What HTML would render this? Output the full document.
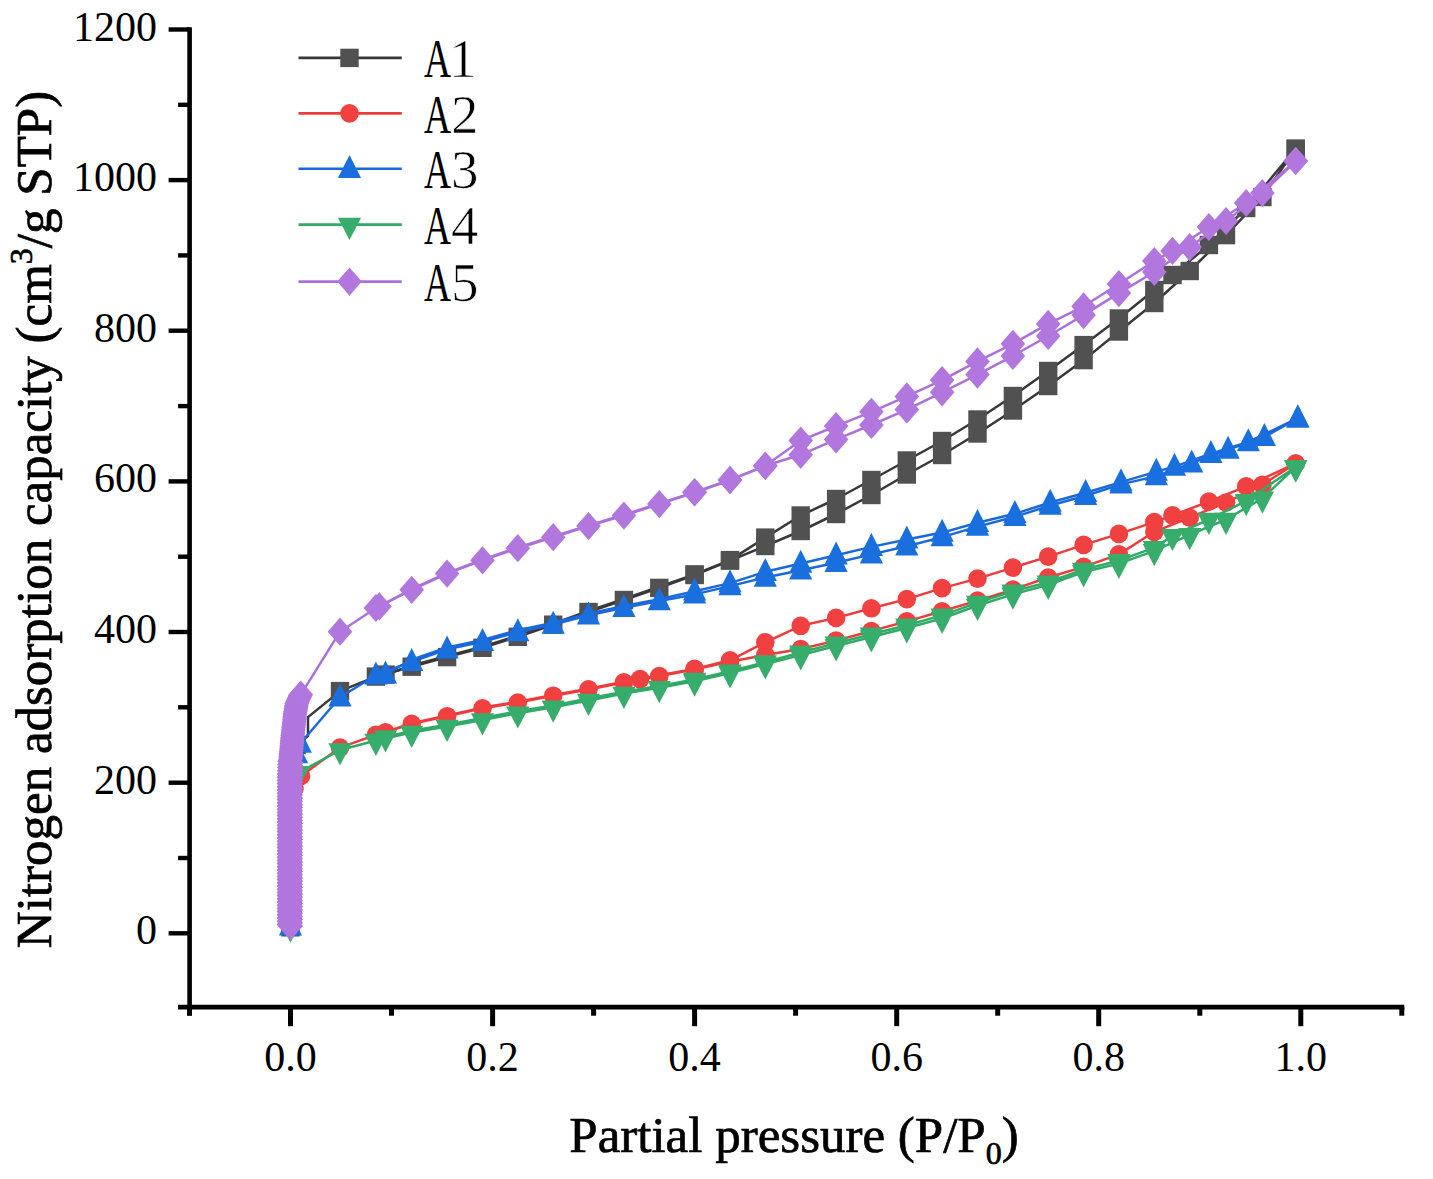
<!DOCTYPE html>
<html><head><meta charset="utf-8"><style>
html,body{margin:0;padding:0;background:#fff;}
svg{display:block;}
.tk{font-family:"Liberation Serif",serif;font-size:42px;fill:#000;}
.ttl{font-family:"Liberation Serif",serif;font-size:51px;fill:#000;stroke:#000;stroke-width:0.7px;}
.lg{font-family:"Liberation Serif",serif;font-size:55px;fill:#000;}
.sub,.sup{font-size:32px;}
.lgd{stroke:#fff;stroke-width:0.7px;}
</style></head><body>
<svg width="1433" height="1179" viewBox="0 0 1433 1179">
<path d="M189.6 27.2V1015.5" stroke="#000" stroke-width="4.6" fill="none"/>
<path d="M178 1007.2H1404.3" stroke="#000" stroke-width="4.8" fill="none"/>
<path d="M168.6 933.3H189.6" stroke="#000" stroke-width="4.4"/>
<path d="M178.1 858.0H189.6" stroke="#000" stroke-width="4.4"/>
<path d="M168.6 782.7H189.6" stroke="#000" stroke-width="4.4"/>
<path d="M178.1 707.3H189.6" stroke="#000" stroke-width="4.4"/>
<path d="M168.6 632.0H189.6" stroke="#000" stroke-width="4.4"/>
<path d="M178.1 556.7H189.6" stroke="#000" stroke-width="4.4"/>
<path d="M168.6 481.4H189.6" stroke="#000" stroke-width="4.4"/>
<path d="M178.1 406.1H189.6" stroke="#000" stroke-width="4.4"/>
<path d="M168.6 330.7H189.6" stroke="#000" stroke-width="4.4"/>
<path d="M178.1 255.4H189.6" stroke="#000" stroke-width="4.4"/>
<path d="M168.6 180.1H189.6" stroke="#000" stroke-width="4.4"/>
<path d="M178.1 104.8H189.6" stroke="#000" stroke-width="4.4"/>
<path d="M168.6 29.5H189.6" stroke="#000" stroke-width="4.4"/>
<path d="M189.5 1007.2V1015.7" stroke="#000" stroke-width="5"/>
<path d="M290.5 1007.2V1026.2" stroke="#000" stroke-width="5"/>
<path d="M391.5 1007.2V1015.7" stroke="#000" stroke-width="5"/>
<path d="M492.6 1007.2V1026.2" stroke="#000" stroke-width="5"/>
<path d="M593.6 1007.2V1015.7" stroke="#000" stroke-width="5"/>
<path d="M694.6 1007.2V1026.2" stroke="#000" stroke-width="5"/>
<path d="M795.6 1007.2V1015.7" stroke="#000" stroke-width="5"/>
<path d="M896.7 1007.2V1026.2" stroke="#000" stroke-width="5"/>
<path d="M997.7 1007.2V1015.7" stroke="#000" stroke-width="5"/>
<path d="M1098.7 1007.2V1026.2" stroke="#000" stroke-width="5"/>
<path d="M1199.8 1007.2V1015.7" stroke="#000" stroke-width="5"/>
<path d="M1300.8 1007.2V1026.2" stroke="#000" stroke-width="5"/>
<path d="M1401.8 1007.2V1015.7" stroke="#000" stroke-width="5"/>
<polyline points="290.5,927.3 290.5,903.2 290.5,873.0 290.5,842.9 290.5,812.8 290.5,782.7 292.5,760.1 296.6,745.0 308.0,736.0 308.0,717.1 340.0,691.1 375.9,676.6 411.7,666.7 447.1,657.1 482.5,647.8 517.8,636.8 553.2,624.7 588.5,612.0 623.9,600.0 659.3,587.9 694.6,575.0 730.0,560.6 765.3,546.0 800.7,531.0 836.1,514.0 871.4,495.0 906.8,474.5 942.1,455.0 977.5,433.5 1012.9,410.5 1048.2,386.0 1083.6,360.1 1118.9,331.5 1154.3,303.0 1189.7,271.0 1226.0,235.1 1262.4,197.0 1295.7,148.8" fill="none" stroke="#383838" stroke-width="2.5" stroke-linejoin="round"/>
<polyline points="1295.7,148.8 1246.2,208.0 1208.9,245.0 1172.5,275.0 1154.3,290.0 1118.9,318.5 1083.6,345.1 1048.2,371.0 1012.9,396.0 977.5,419.5 942.1,441.0 906.8,460.5 871.4,480.0 836.1,499.0 800.7,515.5 765.3,537.6 730.0,560.1 694.6,574.4 659.3,586.8 623.9,598.9 588.5,610.9 553.2,623.6 517.8,635.6 482.5,646.7 447.1,656.0 411.7,665.5 385.5,674.6" fill="none" stroke="#383838" stroke-width="2.5" stroke-linejoin="round"/>
<rect x="281.3" y="918.1" width="18.4" height="18.4" fill="#515151"/>
<rect x="281.3" y="894.0" width="18.4" height="18.4" fill="#515151"/>
<rect x="281.3" y="863.8" width="18.4" height="18.4" fill="#515151"/>
<rect x="281.3" y="833.7" width="18.4" height="18.4" fill="#515151"/>
<rect x="281.3" y="803.6" width="18.4" height="18.4" fill="#515151"/>
<rect x="281.3" y="773.5" width="18.4" height="18.4" fill="#515151"/>
<rect x="283.3" y="750.9" width="18.4" height="18.4" fill="#515151"/>
<rect x="287.4" y="735.8" width="18.4" height="18.4" fill="#515151"/>
<rect x="330.8" y="681.9" width="18.4" height="18.4" fill="#515151"/>
<rect x="366.7" y="667.4" width="18.4" height="18.4" fill="#515151"/>
<rect x="402.5" y="657.5" width="18.4" height="18.4" fill="#515151"/>
<rect x="437.9" y="647.9" width="18.4" height="18.4" fill="#515151"/>
<rect x="473.3" y="638.6" width="18.4" height="18.4" fill="#515151"/>
<rect x="508.6" y="627.6" width="18.4" height="18.4" fill="#515151"/>
<rect x="544.0" y="615.5" width="18.4" height="18.4" fill="#515151"/>
<rect x="579.3" y="602.8" width="18.4" height="18.4" fill="#515151"/>
<rect x="614.7" y="590.8" width="18.4" height="18.4" fill="#515151"/>
<rect x="650.1" y="578.7" width="18.4" height="18.4" fill="#515151"/>
<rect x="685.4" y="565.8" width="18.4" height="18.4" fill="#515151"/>
<rect x="720.8" y="551.4" width="18.4" height="18.4" fill="#515151"/>
<rect x="756.1" y="536.8" width="18.4" height="18.4" fill="#515151"/>
<rect x="791.5" y="521.8" width="18.4" height="18.4" fill="#515151"/>
<rect x="826.9" y="504.8" width="18.4" height="18.4" fill="#515151"/>
<rect x="862.2" y="485.8" width="18.4" height="18.4" fill="#515151"/>
<rect x="897.6" y="465.3" width="18.4" height="18.4" fill="#515151"/>
<rect x="932.9" y="445.8" width="18.4" height="18.4" fill="#515151"/>
<rect x="968.3" y="424.3" width="18.4" height="18.4" fill="#515151"/>
<rect x="1003.7" y="401.3" width="18.4" height="18.4" fill="#515151"/>
<rect x="1039.0" y="376.8" width="18.4" height="18.4" fill="#515151"/>
<rect x="1074.4" y="350.9" width="18.4" height="18.4" fill="#515151"/>
<rect x="1109.7" y="322.3" width="18.4" height="18.4" fill="#515151"/>
<rect x="1145.1" y="293.8" width="18.4" height="18.4" fill="#515151"/>
<rect x="1180.5" y="261.8" width="18.4" height="18.4" fill="#515151"/>
<rect x="1216.8" y="225.9" width="18.4" height="18.4" fill="#515151"/>
<rect x="1253.2" y="187.8" width="18.4" height="18.4" fill="#515151"/>
<rect x="1286.5" y="139.6" width="18.4" height="18.4" fill="#515151"/>
<rect x="1286.5" y="139.6" width="18.4" height="18.4" fill="#515151"/>
<rect x="1237.0" y="198.8" width="18.4" height="18.4" fill="#515151"/>
<rect x="1199.7" y="235.8" width="18.4" height="18.4" fill="#515151"/>
<rect x="1163.3" y="265.8" width="18.4" height="18.4" fill="#515151"/>
<rect x="1145.1" y="280.8" width="18.4" height="18.4" fill="#515151"/>
<rect x="1109.7" y="309.3" width="18.4" height="18.4" fill="#515151"/>
<rect x="1074.4" y="335.9" width="18.4" height="18.4" fill="#515151"/>
<rect x="1039.0" y="361.8" width="18.4" height="18.4" fill="#515151"/>
<rect x="1003.7" y="386.8" width="18.4" height="18.4" fill="#515151"/>
<rect x="968.3" y="410.3" width="18.4" height="18.4" fill="#515151"/>
<rect x="932.9" y="431.8" width="18.4" height="18.4" fill="#515151"/>
<rect x="897.6" y="451.3" width="18.4" height="18.4" fill="#515151"/>
<rect x="862.2" y="470.8" width="18.4" height="18.4" fill="#515151"/>
<rect x="826.9" y="489.8" width="18.4" height="18.4" fill="#515151"/>
<rect x="791.5" y="506.3" width="18.4" height="18.4" fill="#515151"/>
<rect x="756.1" y="528.4" width="18.4" height="18.4" fill="#515151"/>
<rect x="720.8" y="550.9" width="18.4" height="18.4" fill="#515151"/>
<rect x="685.4" y="565.2" width="18.4" height="18.4" fill="#515151"/>
<rect x="376.3" y="665.4" width="18.4" height="18.4" fill="#515151"/>
<polyline points="290.5,927.3 290.5,903.2 290.5,873.0 290.5,842.9 290.5,820.3 291.5,801.5 294.5,788.7 301.0,775.9 340.0,747.6 375.9,734.9 411.7,723.9 447.1,716.2 482.5,708.4 517.8,702.5 553.2,695.7 588.5,689.4 623.9,682.4 659.3,676.1 694.6,669.4 730.0,661.8 765.3,655.0 800.7,649.0 836.1,640.6 871.4,631.0 906.8,621.4 942.1,611.3 977.5,600.6 1012.9,589.6 1048.2,577.5 1083.6,566.9 1118.9,554.4 1154.3,531.8 1189.7,517.7 1226.0,502.5 1262.4,484.7 1295.7,463.5" fill="none" stroke="#ef3a3a" stroke-width="2.5" stroke-linejoin="round"/>
<polyline points="1295.7,463.5 1246.2,486.4 1208.9,501.6 1172.5,515.3 1154.3,522.1 1118.9,533.9 1083.6,544.9 1048.2,556.6 1012.9,567.6 977.5,578.6 942.1,588.1 906.8,599.1 871.4,608.3 836.1,617.9 800.7,625.8 765.3,642.3 730.0,660.3 694.6,668.9 659.3,675.3 640.1,679.1 623.9,681.7 588.5,688.7 553.2,694.9 517.8,701.8 482.5,707.6 447.1,715.4 411.7,723.2 385.5,732.3" fill="none" stroke="#ef3a3a" stroke-width="2.5" stroke-linejoin="round"/>
<circle cx="290.5" cy="927.3" r="9.3" fill="#F14040"/>
<circle cx="290.5" cy="903.2" r="9.3" fill="#F14040"/>
<circle cx="290.5" cy="873.0" r="9.3" fill="#F14040"/>
<circle cx="290.5" cy="842.9" r="9.3" fill="#F14040"/>
<circle cx="290.5" cy="820.3" r="9.3" fill="#F14040"/>
<circle cx="291.5" cy="801.5" r="9.3" fill="#F14040"/>
<circle cx="294.5" cy="788.7" r="9.3" fill="#F14040"/>
<circle cx="301.0" cy="775.9" r="9.3" fill="#F14040"/>
<circle cx="340.0" cy="747.6" r="9.3" fill="#F14040"/>
<circle cx="375.9" cy="734.9" r="9.3" fill="#F14040"/>
<circle cx="411.7" cy="723.9" r="9.3" fill="#F14040"/>
<circle cx="447.1" cy="716.2" r="9.3" fill="#F14040"/>
<circle cx="482.5" cy="708.4" r="9.3" fill="#F14040"/>
<circle cx="517.8" cy="702.5" r="9.3" fill="#F14040"/>
<circle cx="553.2" cy="695.7" r="9.3" fill="#F14040"/>
<circle cx="588.5" cy="689.4" r="9.3" fill="#F14040"/>
<circle cx="623.9" cy="682.4" r="9.3" fill="#F14040"/>
<circle cx="659.3" cy="676.1" r="9.3" fill="#F14040"/>
<circle cx="694.6" cy="669.4" r="9.3" fill="#F14040"/>
<circle cx="730.0" cy="661.8" r="9.3" fill="#F14040"/>
<circle cx="765.3" cy="655.0" r="9.3" fill="#F14040"/>
<circle cx="800.7" cy="649.0" r="9.3" fill="#F14040"/>
<circle cx="836.1" cy="640.6" r="9.3" fill="#F14040"/>
<circle cx="871.4" cy="631.0" r="9.3" fill="#F14040"/>
<circle cx="906.8" cy="621.4" r="9.3" fill="#F14040"/>
<circle cx="942.1" cy="611.3" r="9.3" fill="#F14040"/>
<circle cx="977.5" cy="600.6" r="9.3" fill="#F14040"/>
<circle cx="1012.9" cy="589.6" r="9.3" fill="#F14040"/>
<circle cx="1048.2" cy="577.5" r="9.3" fill="#F14040"/>
<circle cx="1083.6" cy="566.9" r="9.3" fill="#F14040"/>
<circle cx="1118.9" cy="554.4" r="9.3" fill="#F14040"/>
<circle cx="1154.3" cy="531.8" r="9.3" fill="#F14040"/>
<circle cx="1189.7" cy="517.7" r="9.3" fill="#F14040"/>
<circle cx="1226.0" cy="502.5" r="9.3" fill="#F14040"/>
<circle cx="1262.4" cy="484.7" r="9.3" fill="#F14040"/>
<circle cx="1295.7" cy="463.5" r="9.3" fill="#F14040"/>
<circle cx="1295.7" cy="463.5" r="9.3" fill="#F14040"/>
<circle cx="1246.2" cy="486.4" r="9.3" fill="#F14040"/>
<circle cx="1208.9" cy="501.6" r="9.3" fill="#F14040"/>
<circle cx="1172.5" cy="515.3" r="9.3" fill="#F14040"/>
<circle cx="1154.3" cy="522.1" r="9.3" fill="#F14040"/>
<circle cx="1118.9" cy="533.9" r="9.3" fill="#F14040"/>
<circle cx="1083.6" cy="544.9" r="9.3" fill="#F14040"/>
<circle cx="1048.2" cy="556.6" r="9.3" fill="#F14040"/>
<circle cx="1012.9" cy="567.6" r="9.3" fill="#F14040"/>
<circle cx="977.5" cy="578.6" r="9.3" fill="#F14040"/>
<circle cx="942.1" cy="588.1" r="9.3" fill="#F14040"/>
<circle cx="906.8" cy="599.1" r="9.3" fill="#F14040"/>
<circle cx="871.4" cy="608.3" r="9.3" fill="#F14040"/>
<circle cx="836.1" cy="617.9" r="9.3" fill="#F14040"/>
<circle cx="800.7" cy="625.8" r="9.3" fill="#F14040"/>
<circle cx="765.3" cy="642.3" r="9.3" fill="#F14040"/>
<circle cx="730.0" cy="660.3" r="9.3" fill="#F14040"/>
<circle cx="694.6" cy="668.9" r="9.3" fill="#F14040"/>
<circle cx="640.1" cy="679.1" r="9.3" fill="#F14040"/>
<circle cx="385.5" cy="732.3" r="9.3" fill="#F14040"/>
<polyline points="290.5,926.3 290.5,903.2 290.5,873.0 290.5,842.9 290.5,812.8 291.5,782.7 294.5,763.8 296.6,754.0 300.3,743.5 340.0,697.3 375.9,675.2 411.7,661.7 447.1,649.3 482.5,641.8 517.8,632.0 553.2,624.5 588.5,615.4 623.9,607.9 659.3,601.1 694.6,594.4 730.0,586.1 765.3,577.5 800.7,570.3 836.1,562.7 871.4,554.4 906.8,546.2 942.1,537.1 977.5,526.6 1014.9,516.8 1050.2,505.5 1085.6,495.7 1121.0,484.4 1156.3,476.1 1191.7,463.2 1228.1,449.6 1264.4,436.9 1297.8,418.2" fill="none" stroke="#1a68de" stroke-width="2.5" stroke-linejoin="round"/>
<polyline points="1297.8,418.2 1248.3,442.0 1210.9,453.8 1174.5,466.6 1156.3,471.6 1121.0,482.1 1085.6,492.7 1050.2,502.5 1014.9,513.8 977.5,522.8 942.1,532.6 906.8,539.4 871.4,546.9 836.1,555.2 800.7,563.5 765.3,571.8 730.0,583.1 694.6,591.3 659.3,599.3 623.9,606.0 588.5,613.6 553.2,622.6 517.8,630.1 482.5,639.9 447.1,647.5 411.7,659.8 385.5,674.2" fill="none" stroke="#1a68de" stroke-width="2.5" stroke-linejoin="round"/>
<path d="M290.5 912.5L302.1 935.5L278.9 935.5Z" fill="#1A6FDF"/>
<path d="M290.5 889.4L302.1 912.4L278.9 912.4Z" fill="#1A6FDF"/>
<path d="M290.5 859.2L302.1 882.2L278.9 882.2Z" fill="#1A6FDF"/>
<path d="M290.5 829.1L302.1 852.1L278.9 852.1Z" fill="#1A6FDF"/>
<path d="M290.5 799.0L302.1 822.0L278.9 822.0Z" fill="#1A6FDF"/>
<path d="M291.5 768.9L303.1 791.9L279.9 791.9Z" fill="#1A6FDF"/>
<path d="M294.5 750.0L306.1 773.0L282.9 773.0Z" fill="#1A6FDF"/>
<path d="M296.6 740.2L308.2 763.2L285.0 763.2Z" fill="#1A6FDF"/>
<path d="M300.3 729.7L311.9 752.7L288.7 752.7Z" fill="#1A6FDF"/>
<path d="M340.0 683.5L351.6 706.5L328.4 706.5Z" fill="#1A6FDF"/>
<path d="M375.9 661.4L387.5 684.4L364.3 684.4Z" fill="#1A6FDF"/>
<path d="M411.7 647.9L423.3 670.9L400.1 670.9Z" fill="#1A6FDF"/>
<path d="M447.1 635.5L458.7 658.5L435.5 658.5Z" fill="#1A6FDF"/>
<path d="M482.5 628.0L494.1 651.0L470.9 651.0Z" fill="#1A6FDF"/>
<path d="M517.8 618.2L529.4 641.2L506.2 641.2Z" fill="#1A6FDF"/>
<path d="M553.2 610.7L564.8 633.7L541.6 633.7Z" fill="#1A6FDF"/>
<path d="M588.5 601.6L600.1 624.6L576.9 624.6Z" fill="#1A6FDF"/>
<path d="M623.9 594.1L635.5 617.1L612.3 617.1Z" fill="#1A6FDF"/>
<path d="M659.3 587.3L670.9 610.3L647.7 610.3Z" fill="#1A6FDF"/>
<path d="M694.6 580.6L706.2 603.6L683.0 603.6Z" fill="#1A6FDF"/>
<path d="M730.0 572.3L741.6 595.3L718.4 595.3Z" fill="#1A6FDF"/>
<path d="M765.3 563.7L776.9 586.7L753.7 586.7Z" fill="#1A6FDF"/>
<path d="M800.7 556.5L812.3 579.5L789.1 579.5Z" fill="#1A6FDF"/>
<path d="M836.1 548.9L847.7 571.9L824.5 571.9Z" fill="#1A6FDF"/>
<path d="M871.4 540.6L883.0 563.6L859.8 563.6Z" fill="#1A6FDF"/>
<path d="M906.8 532.4L918.4 555.4L895.2 555.4Z" fill="#1A6FDF"/>
<path d="M942.1 523.3L953.7 546.3L930.5 546.3Z" fill="#1A6FDF"/>
<path d="M977.5 512.8L989.1 535.8L965.9 535.8Z" fill="#1A6FDF"/>
<path d="M1014.9 503.0L1026.5 526.0L1003.3 526.0Z" fill="#1A6FDF"/>
<path d="M1050.2 491.7L1061.8 514.7L1038.6 514.7Z" fill="#1A6FDF"/>
<path d="M1085.6 481.9L1097.2 504.9L1074.0 504.9Z" fill="#1A6FDF"/>
<path d="M1121.0 470.6L1132.6 493.6L1109.4 493.6Z" fill="#1A6FDF"/>
<path d="M1156.3 462.3L1167.9 485.3L1144.7 485.3Z" fill="#1A6FDF"/>
<path d="M1191.7 449.4L1203.3 472.4L1180.1 472.4Z" fill="#1A6FDF"/>
<path d="M1228.1 435.8L1239.7 458.8L1216.5 458.8Z" fill="#1A6FDF"/>
<path d="M1264.4 423.1L1276.0 446.1L1252.8 446.1Z" fill="#1A6FDF"/>
<path d="M1297.8 404.4L1309.4 427.4L1286.2 427.4Z" fill="#1A6FDF"/>
<path d="M1297.8 404.4L1309.4 427.4L1286.2 427.4Z" fill="#1A6FDF"/>
<path d="M1248.3 428.2L1259.9 451.2L1236.7 451.2Z" fill="#1A6FDF"/>
<path d="M1210.9 440.0L1222.5 463.0L1199.3 463.0Z" fill="#1A6FDF"/>
<path d="M1174.5 452.8L1186.1 475.8L1162.9 475.8Z" fill="#1A6FDF"/>
<path d="M1156.3 457.8L1167.9 480.8L1144.7 480.8Z" fill="#1A6FDF"/>
<path d="M1121.0 468.3L1132.6 491.3L1109.4 491.3Z" fill="#1A6FDF"/>
<path d="M1085.6 478.9L1097.2 501.9L1074.0 501.9Z" fill="#1A6FDF"/>
<path d="M1050.2 488.7L1061.8 511.7L1038.6 511.7Z" fill="#1A6FDF"/>
<path d="M1014.9 500.0L1026.5 523.0L1003.3 523.0Z" fill="#1A6FDF"/>
<path d="M977.5 509.0L989.1 532.0L965.9 532.0Z" fill="#1A6FDF"/>
<path d="M942.1 518.8L953.7 541.8L930.5 541.8Z" fill="#1A6FDF"/>
<path d="M906.8 525.6L918.4 548.6L895.2 548.6Z" fill="#1A6FDF"/>
<path d="M871.4 533.1L883.0 556.1L859.8 556.1Z" fill="#1A6FDF"/>
<path d="M836.1 541.4L847.7 564.4L824.5 564.4Z" fill="#1A6FDF"/>
<path d="M800.7 549.7L812.3 572.7L789.1 572.7Z" fill="#1A6FDF"/>
<path d="M765.3 558.0L776.9 581.0L753.7 581.0Z" fill="#1A6FDF"/>
<path d="M730.0 569.3L741.6 592.3L718.4 592.3Z" fill="#1A6FDF"/>
<path d="M694.6 577.5L706.2 600.5L683.0 600.5Z" fill="#1A6FDF"/>
<path d="M385.5 660.4L397.1 683.4L373.9 683.4Z" fill="#1A6FDF"/>
<polyline points="290.5,927.3 290.5,903.2 290.5,873.0 290.5,842.9 290.5,812.8 291.7,786.4 298.4,772.9 340.0,750.0 375.9,740.5 411.7,732.6 447.1,726.5 482.5,720.0 517.8,713.2 553.2,707.3 588.5,700.5 623.9,693.6 659.3,687.8 694.6,681.3 730.0,673.0 765.3,664.0 800.7,655.0 836.1,646.0 871.4,637.0 906.8,628.0 942.1,618.5 977.5,605.5 1012.9,594.4 1048.2,584.7 1083.6,572.0 1118.9,563.6 1154.3,550.9 1189.7,534.8 1226.0,519.5 1262.4,498.3 1295.7,467.0" fill="none" stroke="#30aa66" stroke-width="2.5" stroke-linejoin="round"/>
<polyline points="1295.7,467.0 1246.2,500.9 1208.9,519.5 1172.5,535.7 1154.3,547.7 1118.9,560.7 1083.6,569.5 1048.2,582.3 1012.9,591.3 977.5,602.6 942.1,615.4 906.8,625.2 871.4,634.3 836.1,643.3 800.7,652.4 765.3,662.1 730.0,671.2 694.6,679.5 659.3,685.9 623.9,691.7 588.5,698.6 553.2,705.5 517.8,711.3 482.5,718.1 447.1,724.7 411.7,730.7 385.5,737.1" fill="none" stroke="#30aa66" stroke-width="2.5" stroke-linejoin="round"/>
<path d="M278.9 920.5L302.1 920.5L290.5 942.7Z" fill="#37AD6B"/>
<path d="M278.9 896.4L302.1 896.4L290.5 918.6Z" fill="#37AD6B"/>
<path d="M278.9 866.2L302.1 866.2L290.5 888.4Z" fill="#37AD6B"/>
<path d="M278.9 836.1L302.1 836.1L290.5 858.3Z" fill="#37AD6B"/>
<path d="M278.9 806.0L302.1 806.0L290.5 828.2Z" fill="#37AD6B"/>
<path d="M280.1 779.6L303.3 779.6L291.7 801.8Z" fill="#37AD6B"/>
<path d="M286.8 766.1L310.0 766.1L298.4 788.3Z" fill="#37AD6B"/>
<path d="M328.4 743.2L351.6 743.2L340.0 765.4Z" fill="#37AD6B"/>
<path d="M364.3 733.7L387.5 733.7L375.9 755.9Z" fill="#37AD6B"/>
<path d="M400.1 725.8L423.3 725.8L411.7 748.0Z" fill="#37AD6B"/>
<path d="M435.5 719.7L458.7 719.7L447.1 741.9Z" fill="#37AD6B"/>
<path d="M470.9 713.2L494.1 713.2L482.5 735.4Z" fill="#37AD6B"/>
<path d="M506.2 706.4L529.4 706.4L517.8 728.6Z" fill="#37AD6B"/>
<path d="M541.6 700.5L564.8 700.5L553.2 722.7Z" fill="#37AD6B"/>
<path d="M576.9 693.7L600.1 693.7L588.5 715.9Z" fill="#37AD6B"/>
<path d="M612.3 686.8L635.5 686.8L623.9 709.0Z" fill="#37AD6B"/>
<path d="M647.7 681.0L670.9 681.0L659.3 703.2Z" fill="#37AD6B"/>
<path d="M683.0 674.5L706.2 674.5L694.6 696.7Z" fill="#37AD6B"/>
<path d="M718.4 666.2L741.6 666.2L730.0 688.4Z" fill="#37AD6B"/>
<path d="M753.7 657.2L776.9 657.2L765.3 679.4Z" fill="#37AD6B"/>
<path d="M789.1 648.2L812.3 648.2L800.7 670.4Z" fill="#37AD6B"/>
<path d="M824.5 639.2L847.7 639.2L836.1 661.4Z" fill="#37AD6B"/>
<path d="M859.8 630.2L883.0 630.2L871.4 652.4Z" fill="#37AD6B"/>
<path d="M895.2 621.2L918.4 621.2L906.8 643.4Z" fill="#37AD6B"/>
<path d="M930.5 611.7L953.7 611.7L942.1 633.9Z" fill="#37AD6B"/>
<path d="M965.9 598.7L989.1 598.7L977.5 620.9Z" fill="#37AD6B"/>
<path d="M1001.3 587.6L1024.5 587.6L1012.9 609.8Z" fill="#37AD6B"/>
<path d="M1036.6 577.9L1059.8 577.9L1048.2 600.1Z" fill="#37AD6B"/>
<path d="M1072.0 565.2L1095.2 565.2L1083.6 587.4Z" fill="#37AD6B"/>
<path d="M1107.3 556.8L1130.5 556.8L1118.9 579.0Z" fill="#37AD6B"/>
<path d="M1142.7 544.1L1165.9 544.1L1154.3 566.3Z" fill="#37AD6B"/>
<path d="M1178.1 528.0L1201.3 528.0L1189.7 550.2Z" fill="#37AD6B"/>
<path d="M1214.4 512.7L1237.6 512.7L1226.0 534.9Z" fill="#37AD6B"/>
<path d="M1250.8 491.5L1274.0 491.5L1262.4 513.7Z" fill="#37AD6B"/>
<path d="M1284.1 460.2L1307.3 460.2L1295.7 482.4Z" fill="#37AD6B"/>
<path d="M1284.1 460.2L1307.3 460.2L1295.7 482.4Z" fill="#37AD6B"/>
<path d="M1234.6 494.1L1257.8 494.1L1246.2 516.3Z" fill="#37AD6B"/>
<path d="M1197.3 512.7L1220.5 512.7L1208.9 534.9Z" fill="#37AD6B"/>
<path d="M1160.9 528.9L1184.1 528.9L1172.5 551.1Z" fill="#37AD6B"/>
<path d="M1142.7 540.9L1165.9 540.9L1154.3 563.1Z" fill="#37AD6B"/>
<path d="M1107.3 553.9L1130.5 553.9L1118.9 576.1Z" fill="#37AD6B"/>
<path d="M1072.0 562.7L1095.2 562.7L1083.6 584.9Z" fill="#37AD6B"/>
<path d="M1036.6 575.5L1059.8 575.5L1048.2 597.7Z" fill="#37AD6B"/>
<path d="M1001.3 584.5L1024.5 584.5L1012.9 606.7Z" fill="#37AD6B"/>
<path d="M965.9 595.8L989.1 595.8L977.5 618.0Z" fill="#37AD6B"/>
<path d="M930.5 608.6L953.7 608.6L942.1 630.8Z" fill="#37AD6B"/>
<path d="M895.2 618.4L918.4 618.4L906.8 640.6Z" fill="#37AD6B"/>
<path d="M859.8 627.5L883.0 627.5L871.4 649.7Z" fill="#37AD6B"/>
<path d="M824.5 636.5L847.7 636.5L836.1 658.7Z" fill="#37AD6B"/>
<path d="M789.1 645.6L812.3 645.6L800.7 667.8Z" fill="#37AD6B"/>
<path d="M753.7 655.3L776.9 655.3L765.3 677.5Z" fill="#37AD6B"/>
<path d="M718.4 664.4L741.6 664.4L730.0 686.6Z" fill="#37AD6B"/>
<path d="M683.0 672.7L706.2 672.7L694.6 694.9Z" fill="#37AD6B"/>
<path d="M373.9 730.3L397.1 730.3L385.5 752.5Z" fill="#37AD6B"/>
<polyline points="290.7,926.0 288.9,924.4 290.7,922.8 288.9,921.2 290.7,919.6 288.9,918.0 290.7,916.4 288.9,914.8 290.7,913.2 288.9,911.6 290.7,910.0 288.9,908.4 290.7,906.8 288.9,905.2 290.7,903.6 288.9,902.0 290.7,900.4 288.9,898.8 290.7,897.2 288.9,895.6 290.7,894.0 288.9,892.4 290.7,890.8 288.9,889.2 290.7,887.6 288.9,886.0 290.7,884.4 288.9,882.8 290.7,881.2 288.9,879.6 290.7,878.0 288.9,876.4 290.7,874.8 288.9,873.2 290.7,871.6 288.9,870.0 290.7,868.4 288.9,866.8 290.7,865.2 288.9,863.6 290.7,862.0 288.9,860.4 290.7,858.8 288.9,857.2 290.7,855.6 288.9,854.0 290.7,852.4 288.9,850.8 290.7,849.2 288.9,847.6 290.7,846.0 288.9,844.4 290.7,842.8 288.9,841.2 290.7,839.6 288.9,838.0 290.7,836.4 288.9,834.8 290.7,833.2 288.9,831.6 290.7,830.0 288.9,828.4 290.7,826.8 288.9,825.2 290.7,823.6 288.9,822.0 290.7,820.4 288.9,818.8 290.7,817.2 288.9,815.6 290.7,814.0 288.9,812.4 290.7,810.8 288.9,809.2 290.7,807.6 288.9,806.0 290.7,804.4 288.9,802.8 290.7,801.2 288.9,799.6 290.7,798.0 288.9,796.4 290.7,794.8 288.9,793.2 290.7,791.6 288.9,790.0 290.7,788.4 288.9,786.8 290.7,785.2 288.9,783.6 290.7,782.0 288.9,780.4 290.7,778.8 289.0,777.2 290.9,775.6 289.1,774.0 291.0,772.4 289.2,770.8 291.1,769.2 289.3,767.6 291.2,766.0 289.5,764.4 291.3,762.8 289.6,761.2 290.5,759.6 290.6,758.0 290.7,756.4 290.9,754.8 291.0,753.2 291.2,751.6 291.3,750.0 291.5,748.4 291.6,746.8 291.8,745.2 291.9,743.6 292.1,742.0 292.2,740.4 292.3,738.8 292.5,737.2 292.6,735.6 292.8,734.0 293.0,732.4 293.2,730.8 293.3,729.2 293.5,727.6 293.7,726.0 293.9,724.4 294.0,722.8 294.2,721.2 294.4,719.6 294.6,718.0 294.7,716.4 294.9,714.8 295.1,713.2 295.4,711.6 295.7,710.0 295.9,708.4 296.2,706.8 296.4,705.2 296.7,703.6 297.3,702.0 298.0,700.4 298.8,698.8 299.6,697.2 300.3,695.6 300.8,694.6 340.0,631.7 375.9,608.0 411.7,589.8 447.1,573.6 482.5,560.3 517.8,548.2 553.2,537.2 588.5,526.1 623.9,515.6 659.3,504.1 694.6,492.5 730.0,480.2 765.3,465.8 800.7,454.8 836.1,439.4 871.4,425.0 906.8,409.6 942.1,392.3 977.5,374.6 1012.9,355.9 1048.2,336.0 1083.6,315.1 1118.9,293.1 1154.3,272.0 1189.7,247.1 1226.0,221.0 1262.4,193.0 1295.7,161.0" fill="none" stroke="#ac70dc" stroke-width="2.5" stroke-linejoin="round"/>
<polyline points="1295.7,161.0 1246.2,203.0 1208.9,227.0 1172.5,250.9 1154.3,261.0 1118.9,284.0 1083.6,306.3 1048.2,323.9 1012.9,343.8 977.5,361.4 942.1,380.1 906.8,396.4 871.4,411.8 836.1,426.1 800.7,440.5 765.3,465.8 730.0,479.9 694.6,492.1 659.3,503.4 623.9,514.8 588.5,525.4 553.2,536.4 517.8,547.4 482.5,559.6 447.1,572.8 411.7,589.1 379.4,606.4" fill="none" stroke="#ac70dc" stroke-width="2.5" stroke-linejoin="round"/>
<path d="M290.7 911.9L303.0 926.0L290.7 940.1L278.4 926.0Z" fill="#B177DE"/>
<path d="M288.9 910.3L301.2 924.4L288.9 938.5L276.6 924.4Z" fill="#B177DE"/>
<path d="M290.7 908.7L303.0 922.8L290.7 936.9L278.4 922.8Z" fill="#B177DE"/>
<path d="M288.9 907.1L301.2 921.2L288.9 935.3L276.6 921.2Z" fill="#B177DE"/>
<path d="M290.7 905.5L303.0 919.6L290.7 933.7L278.4 919.6Z" fill="#B177DE"/>
<path d="M288.9 903.9L301.2 918.0L288.9 932.1L276.6 918.0Z" fill="#B177DE"/>
<path d="M290.7 902.3L303.0 916.4L290.7 930.5L278.4 916.4Z" fill="#B177DE"/>
<path d="M288.9 900.7L301.2 914.8L288.9 928.9L276.6 914.8Z" fill="#B177DE"/>
<path d="M290.7 899.1L303.0 913.2L290.7 927.3L278.4 913.2Z" fill="#B177DE"/>
<path d="M288.9 897.5L301.2 911.6L288.9 925.7L276.6 911.6Z" fill="#B177DE"/>
<path d="M290.7 895.9L303.0 910.0L290.7 924.1L278.4 910.0Z" fill="#B177DE"/>
<path d="M288.9 894.3L301.2 908.4L288.9 922.5L276.6 908.4Z" fill="#B177DE"/>
<path d="M290.7 892.7L303.0 906.8L290.7 920.9L278.4 906.8Z" fill="#B177DE"/>
<path d="M288.9 891.1L301.2 905.2L288.9 919.3L276.6 905.2Z" fill="#B177DE"/>
<path d="M290.7 889.5L303.0 903.6L290.7 917.7L278.4 903.6Z" fill="#B177DE"/>
<path d="M288.9 887.9L301.2 902.0L288.9 916.1L276.6 902.0Z" fill="#B177DE"/>
<path d="M290.7 886.3L303.0 900.4L290.7 914.5L278.4 900.4Z" fill="#B177DE"/>
<path d="M288.9 884.7L301.2 898.8L288.9 912.9L276.6 898.8Z" fill="#B177DE"/>
<path d="M290.7 883.1L303.0 897.2L290.7 911.3L278.4 897.2Z" fill="#B177DE"/>
<path d="M288.9 881.5L301.2 895.6L288.9 909.7L276.6 895.6Z" fill="#B177DE"/>
<path d="M290.7 879.9L303.0 894.0L290.7 908.1L278.4 894.0Z" fill="#B177DE"/>
<path d="M288.9 878.3L301.2 892.4L288.9 906.5L276.6 892.4Z" fill="#B177DE"/>
<path d="M290.7 876.7L303.0 890.8L290.7 904.9L278.4 890.8Z" fill="#B177DE"/>
<path d="M288.9 875.1L301.2 889.2L288.9 903.3L276.6 889.2Z" fill="#B177DE"/>
<path d="M290.7 873.5L303.0 887.6L290.7 901.7L278.4 887.6Z" fill="#B177DE"/>
<path d="M288.9 871.9L301.2 886.0L288.9 900.1L276.6 886.0Z" fill="#B177DE"/>
<path d="M290.7 870.3L303.0 884.4L290.7 898.5L278.4 884.4Z" fill="#B177DE"/>
<path d="M288.9 868.7L301.2 882.8L288.9 896.9L276.6 882.8Z" fill="#B177DE"/>
<path d="M290.7 867.1L303.0 881.2L290.7 895.3L278.4 881.2Z" fill="#B177DE"/>
<path d="M288.9 865.5L301.2 879.6L288.9 893.7L276.6 879.6Z" fill="#B177DE"/>
<path d="M290.7 863.9L303.0 878.0L290.7 892.1L278.4 878.0Z" fill="#B177DE"/>
<path d="M288.9 862.3L301.2 876.4L288.9 890.5L276.6 876.4Z" fill="#B177DE"/>
<path d="M290.7 860.7L303.0 874.8L290.7 888.9L278.4 874.8Z" fill="#B177DE"/>
<path d="M288.9 859.1L301.2 873.2L288.9 887.3L276.6 873.2Z" fill="#B177DE"/>
<path d="M290.7 857.5L303.0 871.6L290.7 885.7L278.4 871.6Z" fill="#B177DE"/>
<path d="M288.9 855.9L301.2 870.0L288.9 884.1L276.6 870.0Z" fill="#B177DE"/>
<path d="M290.7 854.3L303.0 868.4L290.7 882.5L278.4 868.4Z" fill="#B177DE"/>
<path d="M288.9 852.7L301.2 866.8L288.9 880.9L276.6 866.8Z" fill="#B177DE"/>
<path d="M290.7 851.1L303.0 865.2L290.7 879.3L278.4 865.2Z" fill="#B177DE"/>
<path d="M288.9 849.5L301.2 863.6L288.9 877.7L276.6 863.6Z" fill="#B177DE"/>
<path d="M290.7 847.9L303.0 862.0L290.7 876.1L278.4 862.0Z" fill="#B177DE"/>
<path d="M288.9 846.3L301.2 860.4L288.9 874.5L276.6 860.4Z" fill="#B177DE"/>
<path d="M290.7 844.7L303.0 858.8L290.7 872.9L278.4 858.8Z" fill="#B177DE"/>
<path d="M288.9 843.1L301.2 857.2L288.9 871.3L276.6 857.2Z" fill="#B177DE"/>
<path d="M290.7 841.5L303.0 855.6L290.7 869.7L278.4 855.6Z" fill="#B177DE"/>
<path d="M288.9 839.9L301.2 854.0L288.9 868.1L276.6 854.0Z" fill="#B177DE"/>
<path d="M290.7 838.3L303.0 852.4L290.7 866.5L278.4 852.4Z" fill="#B177DE"/>
<path d="M288.9 836.7L301.2 850.8L288.9 864.9L276.6 850.8Z" fill="#B177DE"/>
<path d="M290.7 835.1L303.0 849.2L290.7 863.3L278.4 849.2Z" fill="#B177DE"/>
<path d="M288.9 833.5L301.2 847.6L288.9 861.7L276.6 847.6Z" fill="#B177DE"/>
<path d="M290.7 831.9L303.0 846.0L290.7 860.1L278.4 846.0Z" fill="#B177DE"/>
<path d="M288.9 830.3L301.2 844.4L288.9 858.5L276.6 844.4Z" fill="#B177DE"/>
<path d="M290.7 828.7L303.0 842.8L290.7 856.9L278.4 842.8Z" fill="#B177DE"/>
<path d="M288.9 827.1L301.2 841.2L288.9 855.3L276.6 841.2Z" fill="#B177DE"/>
<path d="M290.7 825.5L303.0 839.6L290.7 853.7L278.4 839.6Z" fill="#B177DE"/>
<path d="M288.9 823.9L301.2 838.0L288.9 852.1L276.6 838.0Z" fill="#B177DE"/>
<path d="M290.7 822.3L303.0 836.4L290.7 850.5L278.4 836.4Z" fill="#B177DE"/>
<path d="M288.9 820.7L301.2 834.8L288.9 848.9L276.6 834.8Z" fill="#B177DE"/>
<path d="M290.7 819.1L303.0 833.2L290.7 847.3L278.4 833.2Z" fill="#B177DE"/>
<path d="M288.9 817.5L301.2 831.6L288.9 845.7L276.6 831.6Z" fill="#B177DE"/>
<path d="M290.7 815.9L303.0 830.0L290.7 844.1L278.4 830.0Z" fill="#B177DE"/>
<path d="M288.9 814.3L301.2 828.4L288.9 842.5L276.6 828.4Z" fill="#B177DE"/>
<path d="M290.7 812.7L303.0 826.8L290.7 840.9L278.4 826.8Z" fill="#B177DE"/>
<path d="M288.9 811.1L301.2 825.2L288.9 839.3L276.6 825.2Z" fill="#B177DE"/>
<path d="M290.7 809.5L303.0 823.6L290.7 837.7L278.4 823.6Z" fill="#B177DE"/>
<path d="M288.9 807.9L301.2 822.0L288.9 836.1L276.6 822.0Z" fill="#B177DE"/>
<path d="M290.7 806.3L303.0 820.4L290.7 834.5L278.4 820.4Z" fill="#B177DE"/>
<path d="M288.9 804.7L301.2 818.8L288.9 832.9L276.6 818.8Z" fill="#B177DE"/>
<path d="M290.7 803.1L303.0 817.2L290.7 831.3L278.4 817.2Z" fill="#B177DE"/>
<path d="M288.9 801.5L301.2 815.6L288.9 829.7L276.6 815.6Z" fill="#B177DE"/>
<path d="M290.7 799.9L303.0 814.0L290.7 828.1L278.4 814.0Z" fill="#B177DE"/>
<path d="M288.9 798.3L301.2 812.4L288.9 826.5L276.6 812.4Z" fill="#B177DE"/>
<path d="M290.7 796.7L303.0 810.8L290.7 824.9L278.4 810.8Z" fill="#B177DE"/>
<path d="M288.9 795.1L301.2 809.2L288.9 823.3L276.6 809.2Z" fill="#B177DE"/>
<path d="M290.7 793.5L303.0 807.6L290.7 821.7L278.4 807.6Z" fill="#B177DE"/>
<path d="M288.9 791.9L301.2 806.0L288.9 820.1L276.6 806.0Z" fill="#B177DE"/>
<path d="M290.7 790.3L303.0 804.4L290.7 818.5L278.4 804.4Z" fill="#B177DE"/>
<path d="M288.9 788.7L301.2 802.8L288.9 816.9L276.6 802.8Z" fill="#B177DE"/>
<path d="M290.7 787.1L303.0 801.2L290.7 815.3L278.4 801.2Z" fill="#B177DE"/>
<path d="M288.9 785.5L301.2 799.6L288.9 813.7L276.6 799.6Z" fill="#B177DE"/>
<path d="M290.7 783.9L303.0 798.0L290.7 812.1L278.4 798.0Z" fill="#B177DE"/>
<path d="M288.9 782.3L301.2 796.4L288.9 810.5L276.6 796.4Z" fill="#B177DE"/>
<path d="M290.7 780.7L303.0 794.8L290.7 808.9L278.4 794.8Z" fill="#B177DE"/>
<path d="M288.9 779.1L301.2 793.2L288.9 807.3L276.6 793.2Z" fill="#B177DE"/>
<path d="M290.7 777.5L303.0 791.6L290.7 805.7L278.4 791.6Z" fill="#B177DE"/>
<path d="M288.9 775.9L301.2 790.0L288.9 804.1L276.6 790.0Z" fill="#B177DE"/>
<path d="M290.7 774.3L303.0 788.4L290.7 802.5L278.4 788.4Z" fill="#B177DE"/>
<path d="M288.9 772.7L301.2 786.8L288.9 800.9L276.6 786.8Z" fill="#B177DE"/>
<path d="M290.7 771.1L303.0 785.2L290.7 799.3L278.4 785.2Z" fill="#B177DE"/>
<path d="M288.9 769.5L301.2 783.6L288.9 797.7L276.6 783.6Z" fill="#B177DE"/>
<path d="M290.7 767.9L303.0 782.0L290.7 796.1L278.4 782.0Z" fill="#B177DE"/>
<path d="M288.9 766.3L301.2 780.4L288.9 794.5L276.6 780.4Z" fill="#B177DE"/>
<path d="M290.7 764.7L303.0 778.8L290.7 792.9L278.4 778.8Z" fill="#B177DE"/>
<path d="M289.0 763.1L301.3 777.2L289.0 791.3L276.7 777.2Z" fill="#B177DE"/>
<path d="M290.9 761.5L303.2 775.6L290.9 789.7L278.6 775.6Z" fill="#B177DE"/>
<path d="M289.1 759.9L301.4 774.0L289.1 788.1L276.8 774.0Z" fill="#B177DE"/>
<path d="M291.0 758.3L303.3 772.4L291.0 786.5L278.7 772.4Z" fill="#B177DE"/>
<path d="M289.2 756.7L301.5 770.8L289.2 784.9L276.9 770.8Z" fill="#B177DE"/>
<path d="M291.1 755.1L303.4 769.2L291.1 783.3L278.8 769.2Z" fill="#B177DE"/>
<path d="M289.3 753.5L301.6 767.6L289.3 781.7L277.0 767.6Z" fill="#B177DE"/>
<path d="M291.2 751.9L303.5 766.0L291.2 780.1L278.9 766.0Z" fill="#B177DE"/>
<path d="M289.5 750.3L301.8 764.4L289.5 778.5L277.2 764.4Z" fill="#B177DE"/>
<path d="M291.3 748.7L303.6 762.8L291.3 776.9L279.0 762.8Z" fill="#B177DE"/>
<path d="M289.6 747.1L301.9 761.2L289.6 775.3L277.3 761.2Z" fill="#B177DE"/>
<path d="M290.5 745.5L302.8 759.6L290.5 773.7L278.2 759.6Z" fill="#B177DE"/>
<path d="M290.6 743.9L302.9 758.0L290.6 772.1L278.3 758.0Z" fill="#B177DE"/>
<path d="M290.7 742.3L303.0 756.4L290.7 770.5L278.4 756.4Z" fill="#B177DE"/>
<path d="M290.9 740.7L303.2 754.8L290.9 768.9L278.6 754.8Z" fill="#B177DE"/>
<path d="M291.0 739.1L303.3 753.2L291.0 767.3L278.7 753.2Z" fill="#B177DE"/>
<path d="M291.2 737.5L303.5 751.6L291.2 765.7L278.9 751.6Z" fill="#B177DE"/>
<path d="M291.3 735.9L303.6 750.0L291.3 764.1L279.0 750.0Z" fill="#B177DE"/>
<path d="M291.5 734.3L303.8 748.4L291.5 762.5L279.2 748.4Z" fill="#B177DE"/>
<path d="M291.6 732.7L303.9 746.8L291.6 760.9L279.3 746.8Z" fill="#B177DE"/>
<path d="M291.8 731.1L304.1 745.2L291.8 759.3L279.5 745.2Z" fill="#B177DE"/>
<path d="M291.9 729.5L304.2 743.6L291.9 757.7L279.6 743.6Z" fill="#B177DE"/>
<path d="M292.1 727.9L304.4 742.0L292.1 756.1L279.8 742.0Z" fill="#B177DE"/>
<path d="M292.2 726.3L304.5 740.4L292.2 754.5L279.9 740.4Z" fill="#B177DE"/>
<path d="M292.3 724.7L304.6 738.8L292.3 752.9L280.0 738.8Z" fill="#B177DE"/>
<path d="M292.5 723.1L304.8 737.2L292.5 751.3L280.2 737.2Z" fill="#B177DE"/>
<path d="M292.6 721.5L304.9 735.6L292.6 749.7L280.3 735.6Z" fill="#B177DE"/>
<path d="M292.8 719.9L305.1 734.0L292.8 748.1L280.5 734.0Z" fill="#B177DE"/>
<path d="M293.0 718.3L305.3 732.4L293.0 746.5L280.7 732.4Z" fill="#B177DE"/>
<path d="M293.2 716.7L305.5 730.8L293.2 744.9L280.9 730.8Z" fill="#B177DE"/>
<path d="M293.3 715.1L305.6 729.2L293.3 743.3L281.0 729.2Z" fill="#B177DE"/>
<path d="M293.5 713.5L305.8 727.6L293.5 741.7L281.2 727.6Z" fill="#B177DE"/>
<path d="M293.7 711.9L306.0 726.0L293.7 740.1L281.4 726.0Z" fill="#B177DE"/>
<path d="M293.9 710.3L306.2 724.4L293.9 738.5L281.6 724.4Z" fill="#B177DE"/>
<path d="M294.0 708.7L306.3 722.8L294.0 736.9L281.7 722.8Z" fill="#B177DE"/>
<path d="M294.2 707.1L306.5 721.2L294.2 735.3L281.9 721.2Z" fill="#B177DE"/>
<path d="M294.4 705.5L306.7 719.6L294.4 733.7L282.1 719.6Z" fill="#B177DE"/>
<path d="M294.6 703.9L306.9 718.0L294.6 732.1L282.3 718.0Z" fill="#B177DE"/>
<path d="M294.7 702.3L307.0 716.4L294.7 730.5L282.4 716.4Z" fill="#B177DE"/>
<path d="M294.9 700.7L307.2 714.8L294.9 728.9L282.6 714.8Z" fill="#B177DE"/>
<path d="M295.1 699.1L307.4 713.2L295.1 727.3L282.8 713.2Z" fill="#B177DE"/>
<path d="M295.4 697.5L307.7 711.6L295.4 725.7L283.1 711.6Z" fill="#B177DE"/>
<path d="M295.7 695.9L308.0 710.0L295.7 724.1L283.4 710.0Z" fill="#B177DE"/>
<path d="M295.9 694.3L308.2 708.4L295.9 722.5L283.6 708.4Z" fill="#B177DE"/>
<path d="M296.2 692.7L308.5 706.8L296.2 720.9L283.9 706.8Z" fill="#B177DE"/>
<path d="M296.4 691.1L308.7 705.2L296.4 719.3L284.1 705.2Z" fill="#B177DE"/>
<path d="M296.7 689.5L309.0 703.6L296.7 717.7L284.4 703.6Z" fill="#B177DE"/>
<path d="M297.3 687.9L309.6 702.0L297.3 716.1L285.0 702.0Z" fill="#B177DE"/>
<path d="M298.0 686.3L310.3 700.4L298.0 714.5L285.7 700.4Z" fill="#B177DE"/>
<path d="M298.8 684.7L311.1 698.8L298.8 712.9L286.5 698.8Z" fill="#B177DE"/>
<path d="M299.6 683.1L311.9 697.2L299.6 711.3L287.3 697.2Z" fill="#B177DE"/>
<path d="M300.3 681.5L312.6 695.6L300.3 709.7L288.0 695.6Z" fill="#B177DE"/>
<path d="M300.8 680.5L313.1 694.6L300.8 708.7L288.5 694.6Z" fill="#B177DE"/>
<path d="M340.0 617.6L352.3 631.7L340.0 645.8L327.7 631.7Z" fill="#B177DE"/>
<path d="M375.9 593.9L388.2 608.0L375.9 622.1L363.6 608.0Z" fill="#B177DE"/>
<path d="M411.7 575.7L424.0 589.8L411.7 603.9L399.4 589.8Z" fill="#B177DE"/>
<path d="M447.1 559.5L459.4 573.6L447.1 587.7L434.8 573.6Z" fill="#B177DE"/>
<path d="M482.5 546.2L494.8 560.3L482.5 574.4L470.2 560.3Z" fill="#B177DE"/>
<path d="M517.8 534.1L530.1 548.2L517.8 562.3L505.5 548.2Z" fill="#B177DE"/>
<path d="M553.2 523.1L565.5 537.2L553.2 551.3L540.9 537.2Z" fill="#B177DE"/>
<path d="M588.5 512.0L600.8 526.1L588.5 540.2L576.2 526.1Z" fill="#B177DE"/>
<path d="M623.9 501.5L636.2 515.6L623.9 529.7L611.6 515.6Z" fill="#B177DE"/>
<path d="M659.3 490.0L671.6 504.1L659.3 518.2L647.0 504.1Z" fill="#B177DE"/>
<path d="M694.6 478.4L706.9 492.5L694.6 506.6L682.3 492.5Z" fill="#B177DE"/>
<path d="M730.0 466.1L742.3 480.2L730.0 494.3L717.7 480.2Z" fill="#B177DE"/>
<path d="M765.3 451.7L777.6 465.8L765.3 479.9L753.0 465.8Z" fill="#B177DE"/>
<path d="M800.7 440.7L813.0 454.8L800.7 468.9L788.4 454.8Z" fill="#B177DE"/>
<path d="M836.1 425.3L848.4 439.4L836.1 453.5L823.8 439.4Z" fill="#B177DE"/>
<path d="M871.4 410.9L883.7 425.0L871.4 439.1L859.1 425.0Z" fill="#B177DE"/>
<path d="M906.8 395.5L919.1 409.6L906.8 423.7L894.5 409.6Z" fill="#B177DE"/>
<path d="M942.1 378.2L954.4 392.3L942.1 406.4L929.8 392.3Z" fill="#B177DE"/>
<path d="M977.5 360.5L989.8 374.6L977.5 388.7L965.2 374.6Z" fill="#B177DE"/>
<path d="M1012.9 341.8L1025.2 355.9L1012.9 370.0L1000.6 355.9Z" fill="#B177DE"/>
<path d="M1048.2 321.9L1060.5 336.0L1048.2 350.1L1035.9 336.0Z" fill="#B177DE"/>
<path d="M1083.6 301.0L1095.9 315.1L1083.6 329.2L1071.3 315.1Z" fill="#B177DE"/>
<path d="M1118.9 279.0L1131.2 293.1L1118.9 307.2L1106.6 293.1Z" fill="#B177DE"/>
<path d="M1154.3 257.9L1166.6 272.0L1154.3 286.1L1142.0 272.0Z" fill="#B177DE"/>
<path d="M1189.7 233.0L1202.0 247.1L1189.7 261.2L1177.4 247.1Z" fill="#B177DE"/>
<path d="M1226.0 206.9L1238.3 221.0L1226.0 235.1L1213.7 221.0Z" fill="#B177DE"/>
<path d="M1262.4 178.9L1274.7 193.0L1262.4 207.1L1250.1 193.0Z" fill="#B177DE"/>
<path d="M1295.7 146.9L1308.0 161.0L1295.7 175.1L1283.4 161.0Z" fill="#B177DE"/>
<path d="M1295.7 146.9L1308.0 161.0L1295.7 175.1L1283.4 161.0Z" fill="#B177DE"/>
<path d="M1246.2 188.9L1258.5 203.0L1246.2 217.1L1233.9 203.0Z" fill="#B177DE"/>
<path d="M1208.9 212.9L1221.2 227.0L1208.9 241.1L1196.6 227.0Z" fill="#B177DE"/>
<path d="M1172.5 236.8L1184.8 250.9L1172.5 265.0L1160.2 250.9Z" fill="#B177DE"/>
<path d="M1154.3 246.9L1166.6 261.0L1154.3 275.1L1142.0 261.0Z" fill="#B177DE"/>
<path d="M1118.9 269.9L1131.2 284.0L1118.9 298.1L1106.6 284.0Z" fill="#B177DE"/>
<path d="M1083.6 292.2L1095.9 306.3L1083.6 320.4L1071.3 306.3Z" fill="#B177DE"/>
<path d="M1048.2 309.8L1060.5 323.9L1048.2 338.0L1035.9 323.9Z" fill="#B177DE"/>
<path d="M1012.9 329.7L1025.2 343.8L1012.9 357.9L1000.6 343.8Z" fill="#B177DE"/>
<path d="M977.5 347.3L989.8 361.4L977.5 375.5L965.2 361.4Z" fill="#B177DE"/>
<path d="M942.1 366.0L954.4 380.1L942.1 394.2L929.8 380.1Z" fill="#B177DE"/>
<path d="M906.8 382.3L919.1 396.4L906.8 410.5L894.5 396.4Z" fill="#B177DE"/>
<path d="M871.4 397.7L883.7 411.8L871.4 425.9L859.1 411.8Z" fill="#B177DE"/>
<path d="M836.1 412.0L848.4 426.1L836.1 440.2L823.8 426.1Z" fill="#B177DE"/>
<path d="M800.7 426.4L813.0 440.5L800.7 454.6L788.4 440.5Z" fill="#B177DE"/>
<path d="M765.3 451.7L777.6 465.8L765.3 479.9L753.0 465.8Z" fill="#B177DE"/>
<path d="M730.0 465.8L742.3 479.9L730.0 494.0L717.7 479.9Z" fill="#B177DE"/>
<path d="M694.6 478.0L706.9 492.1L694.6 506.2L682.3 492.1Z" fill="#B177DE"/>
<path d="M379.4 592.3L391.7 606.4L379.4 620.5L367.1 606.4Z" fill="#B177DE"/>
<path d="M298.5 57.9H401.8" stroke="#383838" stroke-width="2.6"/>
<rect x="340.3" y="48.7" width="18.4" height="18.4" fill="#515151"/>
<text transform="translate(424 77.4) scale(0.68 1)" class="lg">A</text><text x="449" y="77.4" class="lg lgd">1</text>
<path d="M298.5 113.4H401.8" stroke="#ef3a3a" stroke-width="2.6"/>
<circle cx="349.5" cy="113.4" r="9.3" fill="#F14040"/>
<text transform="translate(424 132.9) scale(0.68 1)" class="lg">A</text><text x="451" y="132.9" class="lg lgd">2</text>
<path d="M298.5 168.8H401.8" stroke="#1a68de" stroke-width="2.6"/>
<path d="M349.5 155.0L361.1 178.0L337.9 178.0Z" fill="#1A6FDF"/>
<text transform="translate(424 188.3) scale(0.68 1)" class="lg">A</text><text x="451" y="188.3" class="lg lgd">3</text>
<path d="M298.5 224.6H401.8" stroke="#30aa66" stroke-width="2.6"/>
<path d="M337.9 217.8L361.1 217.8L349.5 240.0Z" fill="#37AD6B"/>
<text transform="translate(424 244.1) scale(0.68 1)" class="lg">A</text><text x="451" y="244.1" class="lg lgd">4</text>
<path d="M298.5 281.6H401.8" stroke="#ac70dc" stroke-width="2.6"/>
<path d="M349.5 267.5L361.8 281.6L349.5 295.7L337.2 281.6Z" fill="#B177DE"/>
<text transform="translate(424 301.1) scale(0.68 1)" class="lg">A</text><text x="451" y="301.1" class="lg lgd">5</text>
<text x="157" y="944.3" text-anchor="end" class="tk">0</text>
<text x="157" y="793.7" text-anchor="end" class="tk">200</text>
<text x="157" y="643.0" text-anchor="end" class="tk">400</text>
<text x="157" y="492.4" text-anchor="end" class="tk">600</text>
<text x="157" y="341.7" text-anchor="end" class="tk">800</text>
<text x="157" y="191.1" text-anchor="end" class="tk">1000</text>
<text x="157" y="40.5" text-anchor="end" class="tk">1200</text>
<text x="290.5" y="1071" text-anchor="middle" class="tk">0.0</text>
<text x="492.6" y="1071" text-anchor="middle" class="tk">0.2</text>
<text x="694.6" y="1071" text-anchor="middle" class="tk">0.4</text>
<text x="896.7" y="1071" text-anchor="middle" class="tk">0.6</text>
<text x="1098.7" y="1071" text-anchor="middle" class="tk">0.8</text>
<text x="1300.8" y="1071" text-anchor="middle" class="tk">1.0</text>
<text x="794" y="1152" text-anchor="middle" class="ttl">Partial pressure (P/P<tspan class="sub" dy="12">0</tspan><tspan dy="-12">)</tspan></text>
<text transform="translate(51 519.5) rotate(-90)" text-anchor="middle" class="ttl">Nitrogen adsorption capacity (cm<tspan class="sup" dy="-19">3</tspan><tspan dy="19">/g STP)</tspan></text>
</svg>
</body></html>
